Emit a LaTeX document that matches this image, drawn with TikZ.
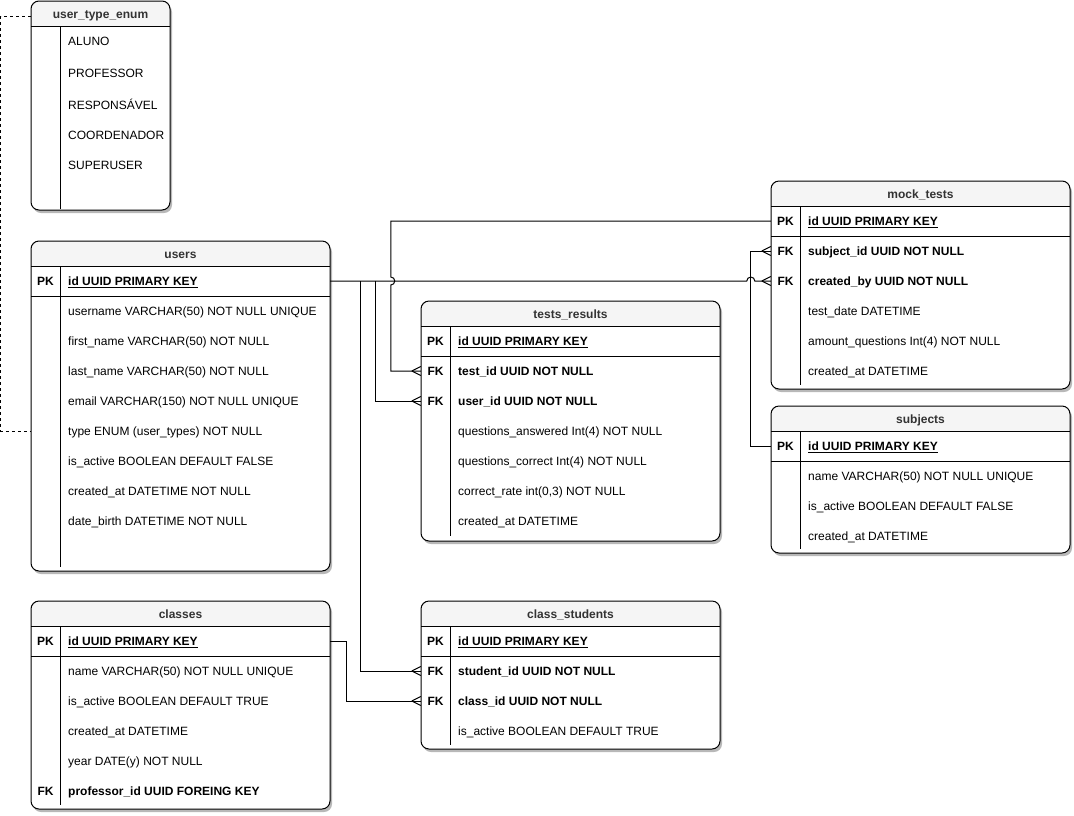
\documentclass[tikz,border=0pt]{standalone}
\usepackage{fontspec}
\setmainfont{Liberation Sans}
\usetikzlibrary{fit,calc}
\definecolor{hdrfill}{HTML}{F5F5F5}
\definecolor{hdrtext}{HTML}{333333}
\tikzset{
  tblline/.style={draw=black, line width=1pt},
  fieldtxt/.style={anchor=west, inner sep=0pt, text height=8.6pt, text depth=0pt, font=\fontsize{12}{14}\selectfont},
  fieldbold/.style={anchor=west, inner sep=0pt, text height=8.6pt, text depth=0pt, font=\fontsize{12}{14}\selectfont\bfseries},
  keytxt/.style={inner sep=0pt, text height=8.6pt, text depth=0pt, font=\fontsize{12}{14}\selectfont\bfseries},
  titletxt/.style={inner sep=0pt, text height=8.6pt, text depth=0pt, font=\fontsize{12}{14}\selectfont\bfseries, text=hdrtext},
  conn/.style={draw=black, line width=1pt},
  enumlink/.style={draw=black, line width=1pt, dash pattern=on 3pt off 3pt},
}
% name, x1, y1, x2, y2, title, key-column gap at bottom
\newcommand\ertable[7]{%
  \fill[black!28, rounded corners=8pt] ({#2+2},{#3+3}) rectangle ({#4+2},{#5+3});
  \fill[white, rounded corners=8pt] (#2,#3) rectangle (#4,#5);
  \begin{scope}
    \clip[rounded corners=8pt] (#2,#3) rectangle (#4,#5);
    \fill[hdrfill] (#2,#3) rectangle (#4,{#3+25});
  \end{scope}
  \draw[tblline, rounded corners=8pt] (#2,#3) rectangle (#4,#5);
  \draw[tblline] (#2,{#3+25}) -- (#4,{#3+25});
  \draw[tblline] ({#2+29.5},{#3+25}) -- ({#2+29.5},{#5-#7});
  \coordinate (#1-nw) at (#2,#3);
  \coordinate (#1-se) at (#4,#5);
  \node[inner sep=0pt, fit=(#1-nw)(#1-se)] (#1) {};
  \node[titletxt] (#1-title) at ({(#2+#4)/2},{#3+13}) {#6};
}
\newcommand\crowfoot[1]{%
  \draw[conn] ($(#1)+(-9,0)$) -- ($(#1)+(0,-4.5)$)
              ($(#1)+(-9,0)$) -- ($(#1)+(0,4.5)$);
}
\begin{document}
\begin{tikzpicture}[x=1pt,y=-1pt]
\useasboundingbox (0,0) rectangle (1074,815);

% ---------------- user_type_enum
\ertable{enum}{31}{1}{170}{210}{user\_type\_enum}{1}
\node[fieldtxt] (enum-r1) at (68,41) {ALUNO};
\node[fieldtxt] (enum-r2) at (68,73) {PROFESSOR};
\node[fieldtxt] (enum-r3) at (68,105) {RESPONSÁVEL};
\node[fieldtxt] (enum-r4) at (68,135) {COORDENADOR};
\node[fieldtxt] (enum-r5) at (68,165) {SUPERUSER};

% ---------------- users
\ertable{users}{31}{241}{330}{571}{users}{4}
\draw[tblline] (31,296) -- (330,296);
\node[keytxt] (users-pkkey) at (45.5,281) {PK};
\node[fieldbold] (users-pk) at (68,281) {\underline{id UUID PRIMARY KEY}};
\node[fieldtxt] (users-r1) at (68,311) {username VARCHAR(50) NOT NULL UNIQUE};
\node[fieldtxt] (users-r2) at (68,341) {first\_name VARCHAR(50) NOT NULL};
\node[fieldtxt] (users-r3) at (68,371) {last\_name VARCHAR(50) NOT NULL};
\node[fieldtxt] (users-r4) at (68,401) {email VARCHAR(150) NOT NULL UNIQUE};
\node[fieldtxt] (users-type) at (68,431) {type ENUM (user\_types) NOT NULL};
\node[fieldtxt] (users-r6) at (68,461) {is\_active BOOLEAN DEFAULT FALSE};
\node[fieldtxt] (users-r7) at (68,491) {created\_at DATETIME NOT NULL};
\node[fieldtxt] (users-r8) at (68,521) {date\_birth DATETIME NOT NULL};

% ---------------- classes
\ertable{classes}{31}{601}{330}{809}{classes}{4}
\draw[tblline] (31,656) -- (330,656);
\node[keytxt] (classes-pkkey) at (45.5,641) {PK};
\node[fieldbold] (classes-pk) at (68,641) {\underline{id UUID PRIMARY KEY}};
\node[fieldtxt] (classes-r1) at (68,671) {name VARCHAR(50) NOT NULL UNIQUE};
\node[fieldtxt] (classes-r2) at (68,701) {is\_active BOOLEAN DEFAULT TRUE};
\node[fieldtxt] (classes-r3) at (68,731) {created\_at DATETIME};
\node[fieldtxt] (classes-r4) at (68,761) {year DATE(y) NOT NULL};
\node[keytxt] (classes-fkkey) at (45.5,791) {FK};
\node[fieldbold] (classes-prof) at (68,791) {professor\_id UUID FOREING KEY};

% ---------------- tests_results
\ertable{tr}{421}{301}{720}{541}{tests\_results}{5}
\draw[tblline] (421,356) -- (720,356);
\node[keytxt] (tr-pkkey) at (435.5,341) {PK};
\node[fieldbold] (tr-pk) at (458,341) {\underline{id UUID PRIMARY KEY}};
\node[keytxt] (tr-fk1) at (435.5,371) {FK};
\node[fieldbold] (tr-test) at (458,371) {test\_id UUID NOT NULL};
\node[keytxt] (tr-fk2) at (435.5,401) {FK};
\node[fieldbold] (tr-user) at (458,401) {user\_id UUID NOT NULL};
\node[fieldtxt] (tr-r3) at (458,431) {questions\_answered Int(4) NOT NULL};
\node[fieldtxt] (tr-r4) at (458,461) {questions\_correct Int(4) NOT NULL};
\node[fieldtxt] (tr-r5) at (458,491) {correct\_rate int(0,3) NOT NULL};
\node[fieldtxt] (tr-r6) at (458,521) {created\_at DATETIME};

% ---------------- class_students
\ertable{cs}{421}{601}{720}{749}{class\_students}{4}
\draw[tblline] (421,656) -- (720,656);
\node[keytxt] (cs-pkkey) at (435.5,641) {PK};
\node[fieldbold] (cs-pk) at (458,641) {\underline{id UUID PRIMARY KEY}};
\node[keytxt] (cs-fk1) at (435.5,671) {FK};
\node[fieldbold] (cs-student) at (458,671) {student\_id UUID NOT NULL};
\node[keytxt] (cs-fk2) at (435.5,701) {FK};
\node[fieldbold] (cs-class) at (458,701) {class\_id UUID NOT NULL};
\node[fieldtxt] (cs-r3) at (458,731) {is\_active BOOLEAN DEFAULT TRUE};

% ---------------- mock_tests
\ertable{mock}{771}{181}{1070}{389}{mock\_tests}{4}
\draw[tblline] (771,236) -- (1070,236);
\node[keytxt] (mock-pkkey) at (785.5,221) {PK};
\node[fieldbold] (mock-pk) at (808,221) {\underline{id UUID PRIMARY KEY}};
\node[keytxt] (mock-fk1) at (785.5,251) {FK};
\node[fieldbold] (mock-subject) at (808,251) {subject\_id UUID NOT NULL};
\node[keytxt] (mock-fk2) at (785.5,281) {FK};
\node[fieldbold] (mock-createdby) at (808,281) {created\_by UUID NOT NULL};
\node[fieldtxt] (mock-r3) at (808,311) {test\_date DATETIME};
\node[fieldtxt] (mock-r4) at (808,341) {amount\_questions Int(4) NOT NULL};
\node[fieldtxt] (mock-r5) at (808,371) {created\_at DATETIME};

% ---------------- subjects
\ertable{subj}{771}{406}{1070}{553}{subjects}{4}
\draw[tblline] (771,461) -- (1070,461);
\node[keytxt] (subj-pkkey) at (785.5,446) {PK};
\node[fieldbold] (subj-pk) at (808,446) {\underline{id UUID PRIMARY KEY}};
\node[fieldtxt] (subj-r1) at (808,476) {name VARCHAR(50) NOT NULL UNIQUE};
\node[fieldtxt] (subj-r2) at (808,506) {is\_active BOOLEAN DEFAULT FALSE};
\node[fieldtxt] (subj-r3) at (808,536) {created\_at DATETIME};

% ---------------- connectors
% enum -> users.type (dashed)
\draw[enumlink] ($(enum.west |- enum-title)+(0,2)$) -- ++(-30,0) |- (users.west |- users-type);

% users.id -> mock_tests.created_by (with line jump)
\coordinate (uid) at (users.east |- users-pk);
\draw[conn] (uid) -- ($(mock.west |- mock-createdby)+(-24,0)$)
  arc[start angle=180, end angle=0, radius=4pt] -- (mock.west |- mock-createdby);
\crowfoot{mock.west |- mock-createdby}

% users.id -> class_students.student_id
\coordinate (ubranch1) at ($(uid)+(30,0)$);
\draw[conn] (ubranch1) |- (cs.west |- cs-student);
\crowfoot{cs.west |- cs-student}

% users.id -> tests_results.user_id
\coordinate (ubranch2) at ($(uid)+(45,0)$);
\draw[conn] (ubranch2) |- (tr.west |- tr-user);
\crowfoot{tr.west |- tr-user}

% mock_tests.id -> tests_results.test_id (with line jump)
\coordinate (mbend) at ($(tr.west |- mock-pk)+(-30,0)$);
\draw[conn] (mock.west |- mock-pk) -- (mbend) -- ($(mbend |- uid)+(0,-4)$)
  arc[start angle=90, end angle=-90, radius=4pt] -- (mbend |- tr-test) -- (tr.west |- tr-test);
\crowfoot{tr.west |- tr-test}

% classes.id -> class_students.class_id
\draw[conn] (classes.east |- classes-pk) -- ++(16,0) |- (cs.west |- cs-class);
\crowfoot{cs.west |- cs-class}

% subjects.id -> mock_tests.subject_id
\draw[conn] (subj.west |- subj-pk) -- ++(-20,0) |- (mock.west |- mock-subject);
\crowfoot{mock.west |- mock-subject}

\end{tikzpicture}
\end{document}
